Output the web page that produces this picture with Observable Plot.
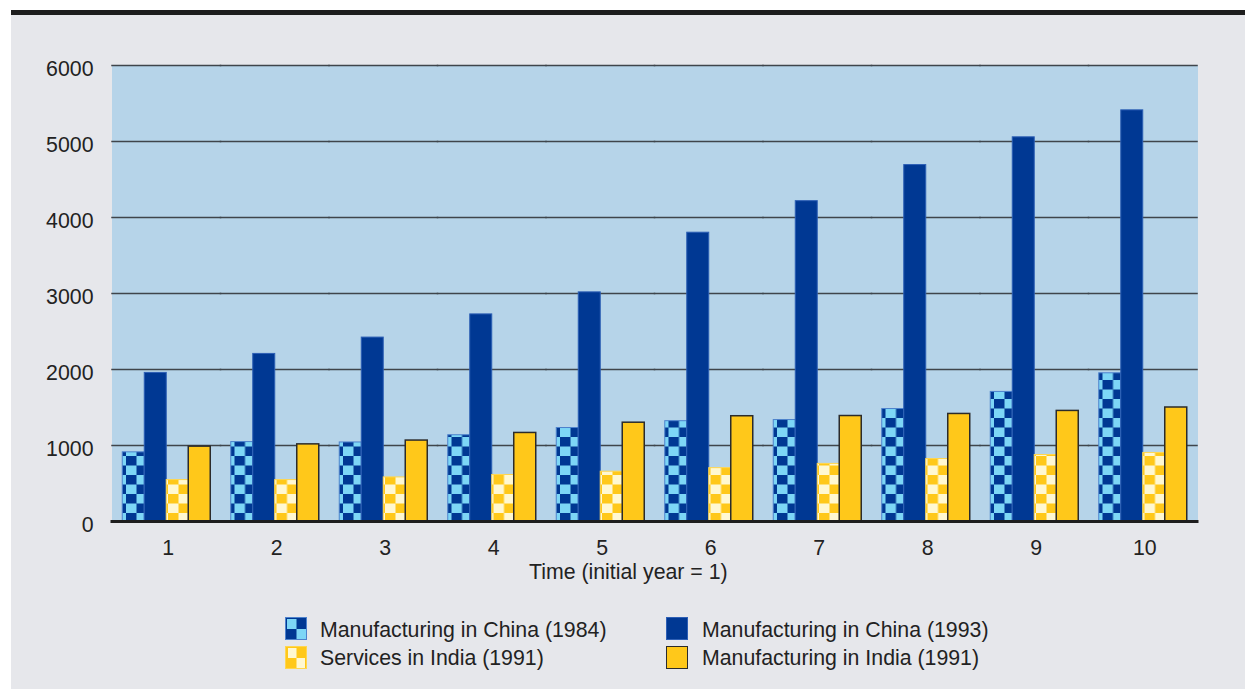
<!DOCTYPE html>
<html>
<head>
<meta charset="utf-8">
<script src="https://cdn.jsdelivr.net/npm/d3@7"></script>
<script src="https://cdn.jsdelivr.net/npm/@observablehq/plot@0.6"></script>
<style>
html, body { margin: 0; padding: 0; background: #ffffff; width: 1245px; height: 689px; overflow: hidden;
  font-family: "Liberation Sans", Arial, sans-serif; color: #222; }
#panel { position: absolute; left: 11px; top: 10px; right: 0; bottom: 0; background: #e6e7eb; border-top: 5px solid #1d1d1d; }
#chart { position: absolute; left: 0; top: 0; }
.t { position: absolute; font-size: 21.3px; line-height: 21px; white-space: nowrap; color: #222; }
.sw { position: absolute; }
</style>
</head>
<body>
<div id="panel"></div>
<div id="chart"></div>
<div id="xlabel" class="t" style="left:529px;top:562px"></div>
<div id="legend"></div>
<script>
// ---- data ----
const years = [1, 2, 3, 4, 5, 6, 7, 8, 9, 10];
const seriesNames = [
  "Manufacturing in China (1984)",
  "Manufacturing in China (1993)",
  "Services in India (1991)",
  "Manufacturing in India (1991)"
];
const china1984 = [910, 1045, 1040, 1135, 1230, 1320, 1335, 1480, 1705, 1950];
const china1993 = [1955, 2205, 2420, 2725, 3015, 3800, 4215, 4690, 5055, 5410];
const servicesIndia1991 = [545, 545, 580, 612, 655, 702, 758, 822, 875, 902];
const manufacturingIndia1991 = [985, 1015, 1065, 1165, 1300, 1385, 1388, 1415, 1455, 1500];
const yTicks = [0, 1000, 2000, 3000, 4000, 5000, 6000];
const xTitle = "Time (initial year = 1)";

const seriesValues = [china1984, china1993, servicesIndia1991, manufacturingIndia1991];
const table = years.flatMap((yr, i) =>
  seriesNames.map((s, k) => ({year: yr, series: s, value: seriesValues[k][i]})));

const seriesStyle = [
  {fill: "url(#chkBlue)", stroke: "#4d82cc", strokeWidth: 1},
  {fill: "#003893", stroke: "#2d5fb5", strokeWidth: 1},
  {fill: "url(#chkYellow)", stroke: "#ffd650", strokeWidth: 1},
  {fill: "#ffc81a", stroke: "#2b2b2b", strokeWidth: 1.5}
];

const plot = Plot.plot({
  width: 1245,
  height: 560,
  marginLeft: 112,
  marginRight: 48,
  marginTop: 65,
  marginBottom: 39,
  style: {background: "transparent", fontFamily: '"Liberation Sans", Arial, sans-serif', fontSize: "21.3px", color: "#222", overflow: "visible"},
  fx: {domain: years, padding: 0, round: false, label: null},
  x: {domain: seriesNames, paddingInner: 0, paddingOuter: 0.466, round: false, axis: null},
  y: {domain: [0, 6000]},
  marks: [
    Plot.frame({fill: "#b6d4e9", stroke: null, inset: -0.5}),
    Plot.ruleY(yTicks.filter(d => d > 0), {stroke: "#3f454b", strokeWidth: 1.5, strokeLinecap: "square"}),
    ...seriesNames.map((s, k) => Plot.barY(table.filter(d => d.series === s), {
      fx: "year", x: "series", y: "value", ...seriesStyle[k]
    })),
    Plot.ruleY([0], {stroke: "#1e1e1e", strokeWidth: 3, strokeLinecap: "square"}),
    Plot.axisY({ticks: yTicks, tickSize: 0, tickPadding: 19, fontSize: 21.3, label: null, dy: 4, tickFormat: d => String(d)}),
    Plot.axisFx({anchor: "bottom", tickSize: 0, tickPadding: 18.5, fontSize: 21.3, label: null, dx: 1.5})
  ]
});

const ns = "http://www.w3.org/2000/svg";
const defs = document.createElementNS(ns, "defs");
defs.innerHTML = `
<pattern id="chkBlue" patternUnits="userSpaceOnUse" width="21" height="19">
  <rect width="21" height="19" fill="#003893"/>
  <rect x="10.5" y="0" width="10.5" height="9.5" fill="#7dd6f6"/>
  <rect x="0" y="9.5" width="10.5" height="9.5" fill="#7dd6f6"/>
</pattern>
<pattern id="chkYellow" patternUnits="userSpaceOnUse" width="21" height="19">
  <rect width="21" height="19" fill="#ffc81a"/>
  <rect x="10.5" y="0" width="10.5" height="9.5" fill="#fff8d2"/>
  <rect x="0" y="9.5" width="10.5" height="9.5" fill="#fff8d2"/>
</pattern>
<pattern id="swBlue" patternUnits="userSpaceOnUse" width="22" height="23">
  <rect width="22" height="23" fill="#003893"/>
  <rect x="2" y="2" width="9.5" height="10" fill="#7dd6f6"/>
  <rect x="11.5" y="12" width="9.5" height="10" fill="#7dd6f6"/>
</pattern>
<pattern id="swYellow" patternUnits="userSpaceOnUse" width="22" height="23">
  <rect width="22" height="23" fill="#ffc81a"/>
  <rect x="3" y="2" width="8.5" height="10" fill="#fff8d2"/>
  <rect x="11.5" y="12" width="8.5" height="10" fill="#fff8d2"/>
</pattern>`;
plot.insertBefore(defs, plot.firstChild);
document.getElementById("chart").appendChild(plot);

document.getElementById("xlabel").textContent = xTitle;

// ---- legend ----
const legend = document.getElementById("legend");
const legendPos = [
  {sx: 285, sy: 617, tx: 320, ty: 619.5},
  {sx: 666, sy: 617, tx: 702, ty: 619.5},
  {sx: 285, sy: 646, tx: 320, ty: 647.5},
  {sx: 666, sy: 646, tx: 702, ty: 647.5}
];
const swatchFill = ["url(#swBlue)", "#003893", "url(#swYellow)", "#ffc81a"];
seriesNames.forEach((s, k) => {
  const p = legendPos[k];
  const sw = document.createElementNS(ns, "svg");
  sw.setAttribute("class", "sw");
  sw.setAttribute("width", 22);
  sw.setAttribute("height", 23);
  sw.style.left = p.sx + "px";
  sw.style.top = p.sy + "px";
  const r = document.createElementNS(ns, "rect");
  r.setAttribute("x", 0.5); r.setAttribute("y", 0.5);
  r.setAttribute("width", 21); r.setAttribute("height", 22);
  r.setAttribute("fill", swatchFill[k]);
  r.setAttribute("stroke", seriesStyle[k].stroke);
  r.setAttribute("stroke-width", 1);
  sw.appendChild(r);
  legend.appendChild(sw);
  const t = document.createElement("div");
  t.className = "t";
  t.style.left = p.tx + "px";
  t.style.top = p.ty + "px";
  t.textContent = s;
  legend.appendChild(t);
});
</script>
</body>
</html>
